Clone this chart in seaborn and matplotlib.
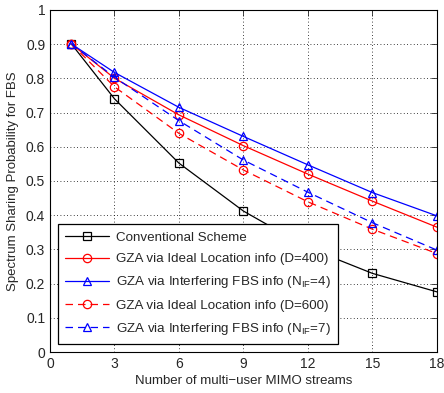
import matplotlib
matplotlib.use("Agg")
import matplotlib.pyplot as plt
import seaborn as sns
import pandas as pd

sns.set_style("white")
plt.rcParams['font.family'] = ['Liberation Sans', 'DejaVu Sans']
plt.rcParams['mathtext.fontset'] = 'custom'
plt.rcParams['mathtext.rm'] = 'Liberation Sans'

streams = [1, 3, 6, 9, 12, 15, 18]
conventional = [0.90, 0.74, 0.552, 0.412, 0.305, 0.23, 0.176]
ideal_d400 = [0.90, 0.80, 0.693, 0.603, 0.520, 0.441, 0.365]
interf_n4 = [0.90, 0.817, 0.715, 0.630, 0.547, 0.466, 0.398]
ideal_d600 = [0.90, 0.775, 0.639, 0.532, 0.439, 0.359, 0.288]
interf_n7 = [0.90, 0.803, 0.676, 0.561, 0.467, 0.378, 0.298]

labels = [
    "Conventional Scheme",
    "GZA via Ideal Location info (D=400)",
    r"GZA via Interfering FBS info (N$_{\rm IF}$=4)",
    "GZA via Ideal Location info (D=600)",
    r"GZA via Interfering FBS info (N$_{\rm IF}$=7)",
]
series = [conventional, ideal_d400, interf_n4, ideal_d600, interf_n7]
colors = ["black", "red", "blue", "red", "blue"]
markers = ["s", "o", "^", "o", "^"]
styles = ["-", "-", "-", (0, (6, 4)), (0, (6, 4))]

fig = plt.figure(figsize=(4.44, 3.93), dpi=100)
ax = fig.add_axes([0.1126, 0.104, 0.8716, 0.871])

for lab, vals, c, m, ls in zip(labels, series, colors, markers, styles):
    df = pd.DataFrame({"x": streams, "y": vals})
    sns.lineplot(data=df, x="x", y="y", ax=ax, color=c, marker=m,
                 linestyle=ls, linewidth=0.9, markersize=6,
                 markerfacecolor="none", markeredgecolor=c,
                 markeredgewidth=0.9, label=lab)

ax.set_xlim(0, 18)
ax.set_ylim(0, 1)
ax.set_xticks([0, 3, 6, 9, 12, 15, 18])
ax.set_yticks([0, 0.1, 0.2, 0.3, 0.4, 0.5, 0.6, 0.7, 0.8, 0.9, 1])
ax.set_yticklabels(["0", "0.1", "0.2", "0.3", "0.4", "0.5", "0.6", "0.7", "0.8", "0.9", "1"])
ax.grid(True, linestyle=(0, (1, 3)), color="black", linewidth=0.6)
ax.tick_params(direction="in", top=True, right=True, labelsize=10, length=4, width=0.6)
for s in ax.spines.values():
    s.set_color("black")
    s.set_linewidth(0.8)
ax.set_xlabel("Number of multi\u2212user MIMO streams", fontsize=9.5, labelpad=3)
ax.set_ylabel("Spectrum Sharing Probability for FBS", fontsize=9.5, labelpad=5)

leg = ax.legend(loc="lower left", bbox_to_anchor=(0.02, 0.023), fontsize=9.6,
                frameon=True, fancybox=False, edgecolor="black", framealpha=1,
                borderaxespad=0, handlelength=3.3, labelspacing=0.68,
                borderpad=0.55, handletextpad=0.5)
leg.get_frame().set_linewidth(0.9)

fig.savefig("out.png", dpi=100)
